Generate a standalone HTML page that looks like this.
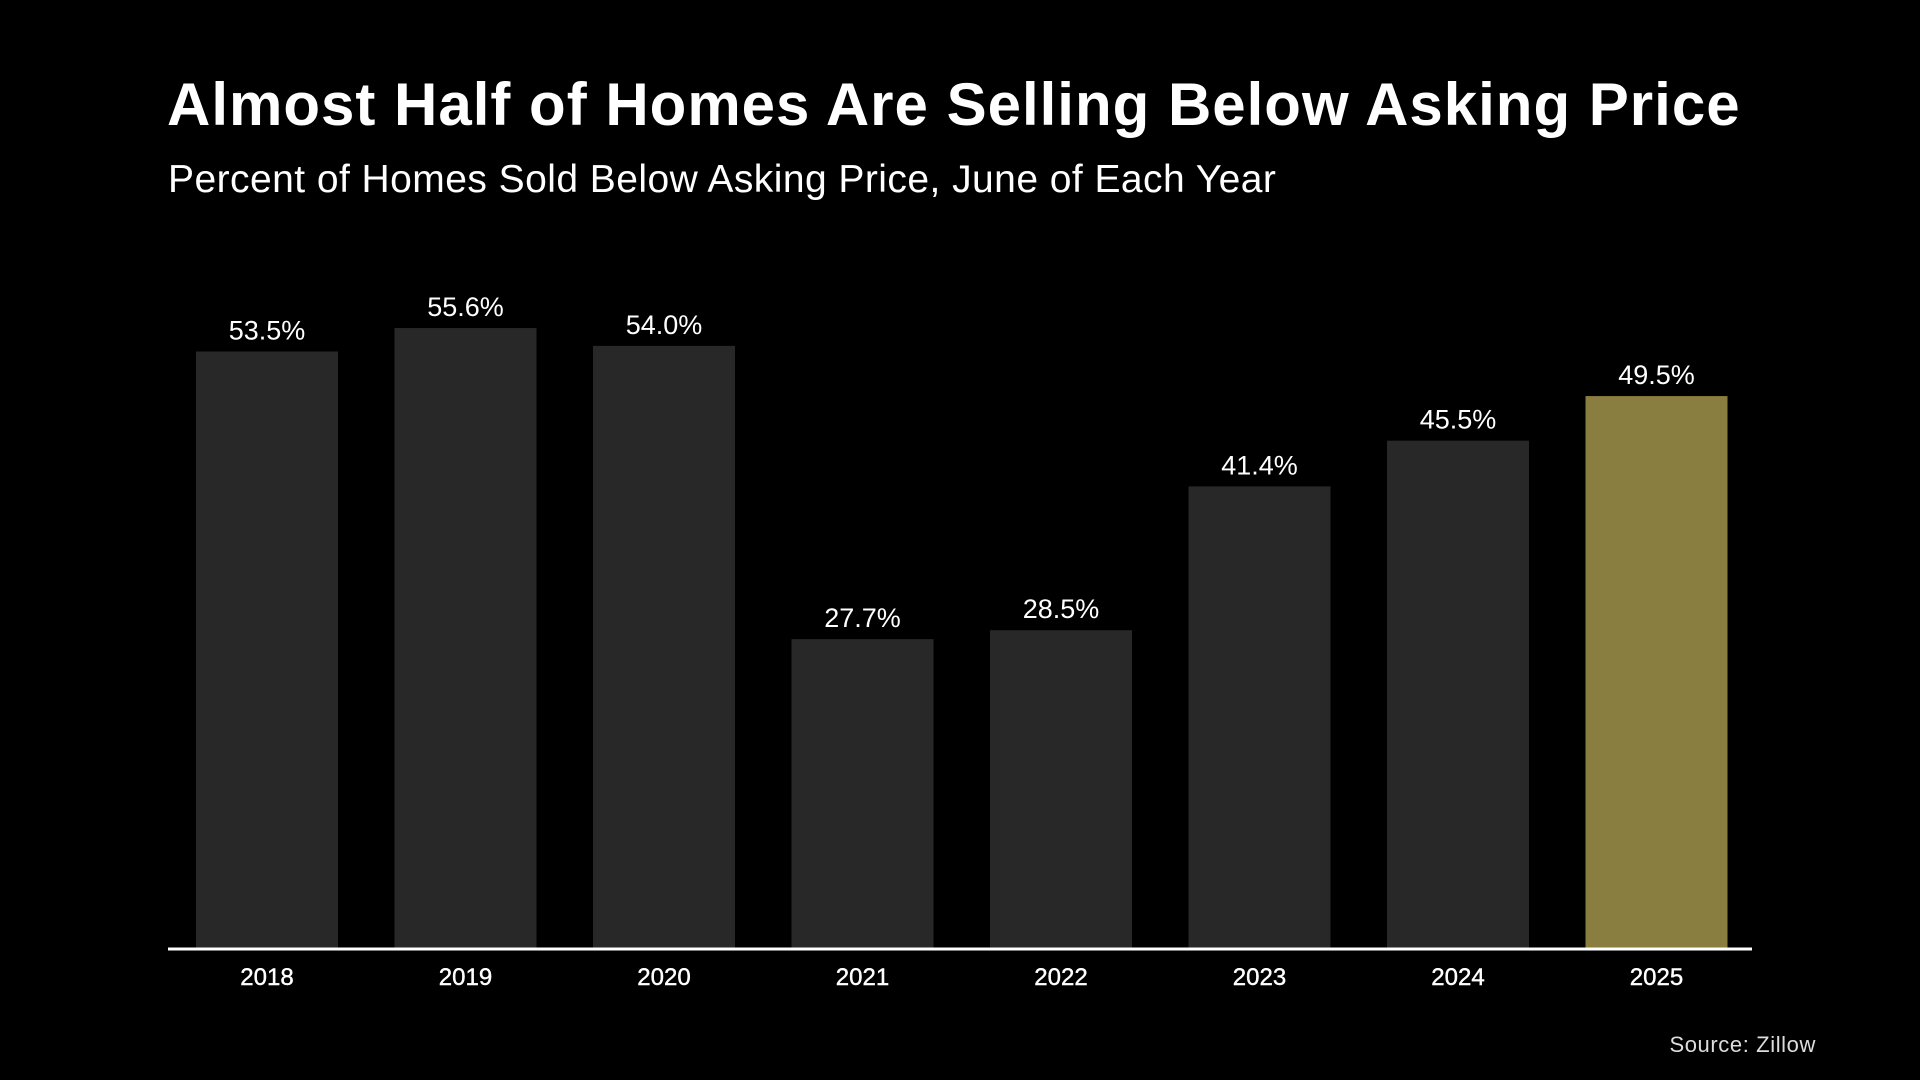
<!DOCTYPE html>
<html>
<head>
<meta charset="utf-8">
<style>
  html,body{margin:0;padding:0;background:#000;}
  body{width:1920px;height:1080px;overflow:hidden;position:relative;font-family:"Liberation Sans",Arial,sans-serif;color:#fff;}
  #title{position:absolute;left:167px;top:70px;font-size:60px;font-weight:bold;margin:0;letter-spacing:1.0px;white-space:nowrap;}
  #subtitle{position:absolute;left:168px;top:158px;font-size:39px;margin:0;white-space:nowrap;letter-spacing:0.45px;}
  #source{position:absolute;right:104px;top:1032px;font-size:22px;color:#ddd;letter-spacing:0.6px;}
  svg{position:absolute;left:0;top:0;}
</style>
</head>
<body>
<h1 id="title">Almost Half of Homes Are Selling Below Asking Price</h1>
<p id="subtitle">Percent of Homes Sold Below Asking Price, June of Each Year</p>
<div id="source">Source: Zillow</div>
<svg id="chart" width="1920" height="1080"></svg>
<script>
const categories = ["2018","2019","2020","2021","2022","2023","2024","2025"];
const values = [53.5, 55.6, 54.0, 27.7, 28.5, 41.4, 45.5, 49.5];
const valueLabels = ["53.5%","55.6%","54.0%","27.7%","28.5%","41.4%","45.5%","49.5%"];

const NS = "http://www.w3.org/2000/svg";
const svg = document.getElementById("chart");
const baseY = 948, pxPerUnit = 11.15;
const firstX = 196, step = 198.5, barW = 142;
function xPos(i){ return firstX + i*step; }
function yPos(v){ return baseY - v*pxPerUnit; }

categories.forEach((c,i)=>{
  const v = values[i];
  const r = document.createElementNS(NS,"rect");
  r.setAttribute("x", xPos(i));
  r.setAttribute("y", yPos(v));
  r.setAttribute("width", barW);
  r.setAttribute("height", baseY - yPos(v));
  r.setAttribute("fill", i === categories.length-1 ? "#8a7d40" : "#282828");
  
  
  svg.appendChild(r);

  const t = document.createElementNS(NS,"text");
  t.setAttribute("x", xPos(i) + barW/2);
  t.setAttribute("y", yPos(v) - 12);
  t.setAttribute("text-anchor","middle");
  t.setAttribute("fill","#fff");
  t.setAttribute("font-size","27");
  t.setAttribute("font-family","Liberation Sans, Arial, sans-serif");
  t.textContent = valueLabels[i];
  
  
  svg.appendChild(t);

  const x = document.createElementNS(NS,"text");
  x.setAttribute("x", xPos(i) + barW/2);
  x.setAttribute("y", 985);
  x.setAttribute("text-anchor","middle");
  x.setAttribute("fill","#fff");
  x.setAttribute("font-size","24");
  x.setAttribute("stroke","#fff");
  x.setAttribute("stroke-width","0.4");
  x.setAttribute("font-family","Liberation Sans, Arial, sans-serif");
  x.textContent = c;
  
  
  svg.appendChild(x);
});

const axis = document.createElementNS(NS,"line");
axis.setAttribute("x1",168); axis.setAttribute("x2",1752);
axis.setAttribute("y1",baseY+1); axis.setAttribute("y2",baseY+1);
axis.setAttribute("stroke","#fff"); axis.setAttribute("stroke-width","3");


svg.appendChild(axis);
</script>
</body>
</html>
